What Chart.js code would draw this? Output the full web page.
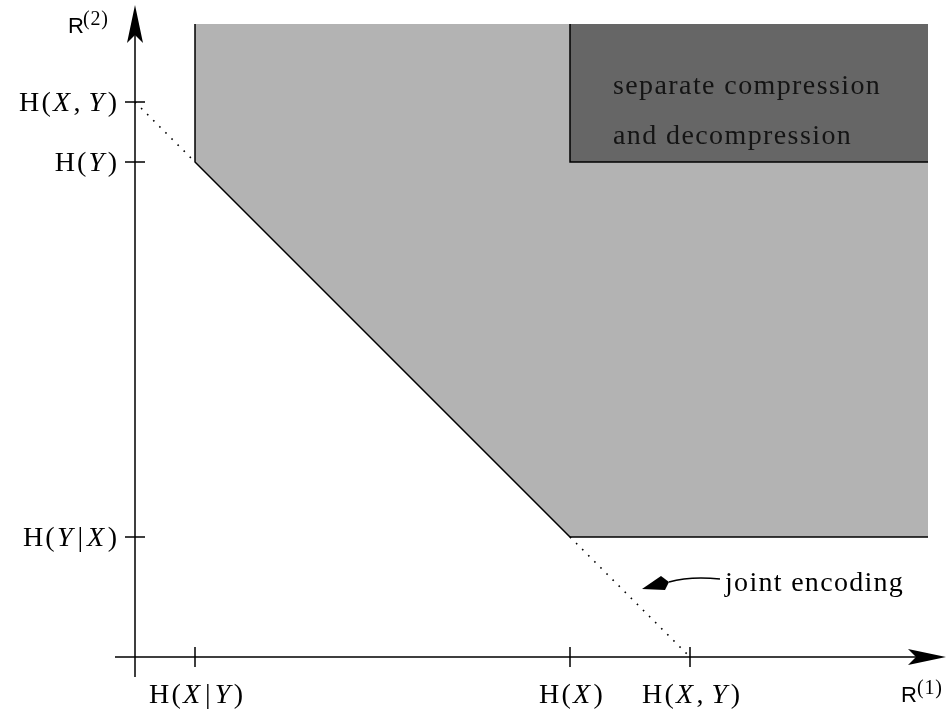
<!DOCTYPE html>
<html>
<head>
<meta charset="utf-8">
<script src="https://cdn.jsdelivr.net/npm/chart.js@4/dist/chart.umd.min.js"></script>
<style>
  html, body { margin: 0; padding: 0; background: #ffffff; }
  #wrap { width: 948px; height: 714px; }
</style>
</head>
<body>
<div id="wrap"><canvas id="c" width="948" height="714"></canvas></div>
<script>
// Entropies (in bits) defining the Slepian–Wolf rate region
const H_X_GIVEN_Y = 0.6;
const H_Y_GIVEN_X = 1.2;
const H_X = 4.35;
const H_Y = 4.95;
const H_XY = 5.55;

// Tick positions and labels on each axis
const xTickValues = [H_X_GIVEN_Y, H_X, H_XY];
const xTickLabels = ['H(X|Y)', 'H(X)', 'H(X,Y)'];
const yTickValues = [H_Y_GIVEN_X, H_Y, H_XY];
const yTickLabels = ['H(Y|X)', 'H(Y)', 'H(X,Y)'];

// Outer extent of the shaded regions
const REGION_TOP = 6.33;
const REGION_RIGHT = 7.93;

// Achievable region boundary (joint decoding)
const achievableX = [H_X_GIVEN_Y, H_X_GIVEN_Y, H_X, REGION_RIGHT];
const achievableY = [REGION_TOP, H_Y, H_Y_GIVEN_X, H_Y_GIVEN_X];

// Separate compression region boundary
const separateX = [H_X, H_X, REGION_RIGHT];
const separateY = [REGION_TOP, H_Y, H_Y];

// Dotted extensions of the sum-rate line
const sumUpperX = [0, H_X_GIVEN_Y];
const sumUpperY = [H_XY, H_Y];
const sumLowerX = [H_X, H_XY];
const sumLowerY = [H_Y_GIVEN_X, 0];

// Axis extents
const AXIS_START = -0.2;
const X_AXIS_END = 8.11;
const Y_AXIS_END = 6.52;

// Annotation: "joint encoding" pointer
const jointLabelPos = [5.92, 0.66];
const jointArrowFrom = [5.85, 0.78];
const jointArrowCtrl = [5.55, 0.81];
const jointArrowJoin = [5.34, 0.75];
const jointArrowTip = [5.07, 0.68];

// Region caption
const captionLines = ['separate compression', 'and decompression'];
const captionPos = [4.78, 5.73];
const captionLineStep = 0.5;

const pts = (xs, ys) => xs.map((v, i) => ({ x: v, y: ys[i] }));

const SERIF = '"Liberation Serif", "DejaVu Serif", serif';
const SANS = '"Liberation Sans", "DejaVu Sans", sans-serif';
const ROMAN = '28px ' + SERIF;
const ITALIC = 'italic 28px ' + SERIF;

// Split an entropy label into styled pieces with math-like spacing
function labelPieces(text) {
  const out = [];
  for (let i = 0; i < text.length; i++) {
    const ch = text[i];
    const last = i === text.length - 1;
    if (ch === 'X' || ch === 'Y') out.push({ t: ch, f: ITALIC, gap: last ? 0 : 3.5 });
    else if (ch === ',') out.push({ t: ',', f: ROMAN, gap: 8 });
    else if (ch === '|') out.push({ t: '|', f: ROMAN, gap: 4, pre: 1.5 });
    else out.push({ t: ch, f: ROMAN, gap: last ? 0 : 2.2 });
  }
  return out;
}

// Draw a run of styled pieces; ls = extra spacing between characters inside a piece
function drawPieces(ctx, pieces, x, yBase, align) {
  let w = 0;
  pieces.forEach(p => {
    ctx.font = p.f;
    const chars = Array.from(p.t);
    p.cw = chars.map(c => ctx.measureText(c).width);
    p.w = (p.pre || 0) + p.cw.reduce((a, b) => a + b, 0) + (p.ls || 0) * (chars.length - 1) + (p.gap || 0);
    w += p.w;
  });
  let cx = align === 'right' ? x - w : (align === 'center' ? x - w / 2 : x);
  ctx.textAlign = 'left';
  ctx.textBaseline = 'alphabetic';
  pieces.forEach(p => {
    ctx.font = p.f;
    cx += p.pre || 0;
    Array.from(p.t).forEach((c, i) => {
      ctx.fillText(c, cx, yBase);
      cx += p.cw[i] + (p.ls || 0);
    });
    cx += (p.gap || 0) - (p.ls || 0);
  });
}

const axesPlugin = {
  id: 'rateRegionAxes',
  afterDatasetsDraw(chart) {
    const { ctx, scales } = chart;
    const px = v => scales.x.getPixelForValue(v);
    const py = v => scales.y.getPixelForValue(v);
    const ox = px(0), oy = py(0);
    ctx.save();
    ctx.strokeStyle = '#000';
    ctx.fillStyle = '#000';
    ctx.lineWidth = 1.5;

    // axis lines
    const xTip = px(X_AXIS_END), yTip = py(Y_AXIS_END);
    ctx.beginPath();
    ctx.moveTo(px(AXIS_START), oy); ctx.lineTo(xTip - 20, oy);
    ctx.moveTo(ox, py(AXIS_START)); ctx.lineTo(ox, yTip + 20);
    ctx.stroke();

    // stealth arrowheads
    ctx.beginPath();
    ctx.moveTo(xTip, oy);
    ctx.lineTo(xTip - 38, oy - 8);
    ctx.lineTo(xTip - 30, oy);
    ctx.lineTo(xTip - 38, oy + 8);
    ctx.closePath();
    ctx.fill();
    ctx.beginPath();
    ctx.moveTo(ox, yTip);
    ctx.lineTo(ox + 8, yTip + 38);
    ctx.lineTo(ox, yTip + 30);
    ctx.lineTo(ox - 8, yTip + 38);
    ctx.closePath();
    ctx.fill();

    // tick marks
    ctx.beginPath();
    xTickValues.forEach(v => { const x = px(v); ctx.moveTo(x, oy - 10); ctx.lineTo(x, oy + 10); });
    yTickValues.forEach(v => { const y = py(v); ctx.moveTo(ox - 10, y); ctx.lineTo(ox + 10, y); });
    ctx.stroke();

    // tick labels
    xTickValues.forEach((v, i) => drawPieces(ctx, labelPieces(xTickLabels[i]), px(v) + 1, oy + 46, 'center'));
    yTickValues.forEach((v, i) => drawPieces(ctx, labelPieces(yTickLabels[i]), ox - 18, py(v) + 9, 'right'));

    // axis titles
    drawPieces(ctx, [{ t: 'R', f: '22px ' + SANS }], ox - 67, yTip + 28, 'left');
    drawPieces(ctx, [{ t: '(2)', f: '20px ' + SERIF, ls: 0.8 }], ox - 52, yTip + 20, 'left');
    drawPieces(ctx, [{ t: 'R', f: '22px ' + SANS }], xTip - 45, oy + 45, 'left');
    drawPieces(ctx, [{ t: '(1)', f: '20px ' + SERIF, ls: 0.8 }], xTip - 29, oy + 37, 'left');

    // region caption
    ctx.fillStyle = '#141414';
    captionLines.forEach((line, i) => {
      drawPieces(ctx, [{ t: line, f: ROMAN, ls: 1.4 }], px(captionPos[0]), py(captionPos[1] - i * captionLineStep) + 10, 'left');
    });

    // joint encoding pointer
    ctx.fillStyle = '#000';
    ctx.lineWidth = 1.6;
    ctx.beginPath();
    ctx.moveTo(px(jointArrowFrom[0]), py(jointArrowFrom[1]));
    ctx.quadraticCurveTo(px(jointArrowCtrl[0]), py(jointArrowCtrl[1]), px(jointArrowJoin[0]), py(jointArrowJoin[1]));
    ctx.stroke();
    const tx = px(jointArrowTip[0]), ty = py(jointArrowTip[1]);
    const jx = px(jointArrowJoin[0]), jy = py(jointArrowJoin[1]);
    ctx.beginPath();
    ctx.moveTo(tx, ty);
    ctx.lineTo(tx + 19, ty - 13);
    ctx.lineTo(jx, jy);
    ctx.lineTo(tx + 23, ty + 1);
    ctx.closePath();
    ctx.fill();
    drawPieces(ctx, [{ t: 'joint encoding', f: ROMAN, ls: 1.3 }], px(jointLabelPos[0]) - 2, py(jointLabelPos[1]), 'left');

    ctx.restore();
  }
};

new Chart(document.getElementById('c'), {
  type: 'scatter',
  data: {
    datasets: [
      {
        label: 'achievable',
        data: pts(achievableX, achievableY),
        showLine: true,
        fill: { value: REGION_TOP },
        backgroundColor: '#b3b3b3',
        borderColor: '#000',
        borderWidth: 1.5,
        pointRadius: 0,
        tension: 0,
        order: 3
      },
      {
        label: 'separate',
        data: pts(separateX, separateY),
        showLine: true,
        fill: { value: REGION_TOP },
        backgroundColor: '#666666',
        borderColor: '#000',
        borderWidth: 1.5,
        pointRadius: 0,
        tension: 0,
        order: 2
      },
      {
        label: 'sum rate upper',
        data: pts(sumUpperX, sumUpperY),
        showLine: true,
        fill: false,
        borderColor: '#000',
        borderWidth: 1.6,
        borderDash: [1.6, 7],
        pointRadius: 0,
        order: 1
      },
      {
        label: 'sum rate lower',
        data: pts(sumLowerX, sumLowerY),
        showLine: true,
        fill: false,
        borderColor: '#000',
        borderWidth: 1.6,
        borderDash: [1.6, 7],
        pointRadius: 0,
        order: 1
      }
    ]
  },
  options: {
    responsive: false,
    animation: false,
    devicePixelRatio: 1,
    layout: { padding: { left: 115, right: 3, top: 7, bottom: 37 } },
    scales: {
      x: { type: 'linear', min: -0.2, max: 8.1, display: false },
      y: { type: 'linear', min: -0.2, max: 6.5, display: false }
    },
    plugins: {
      legend: { display: false },
      tooltip: { enabled: false }
    }
  },
  plugins: [axesPlugin]
});
</script>
</body>
</html>
